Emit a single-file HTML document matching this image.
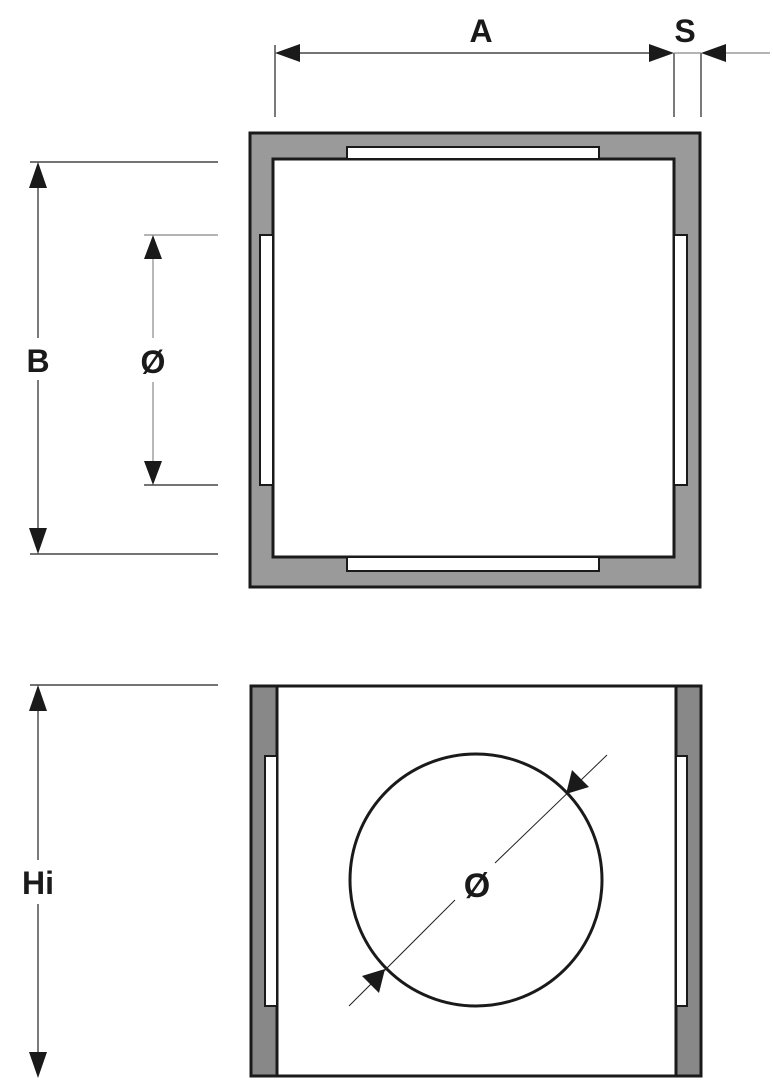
<!DOCTYPE html>
<html><head><style>html,body{margin:0;padding:0;background:#fff}svg{display:block}</style></head>
<body>
<svg width="773" height="1082" viewBox="0 0 773 1082" xmlns="http://www.w3.org/2000/svg" font-family="Liberation Sans, sans-serif" font-weight="bold">
<rect x="250" y="133" width="450" height="454" fill="#9a9a9a" stroke="#1a1a1a" stroke-width="3"/>
<rect x="273" y="159" width="401" height="398" fill="#fff" stroke="#1a1a1a" stroke-width="3"/>
<rect x="347" y="147" width="252" height="12" fill="#fff" stroke="#1a1a1a" stroke-width="2"/>
<rect x="347" y="557" width="252" height="14" fill="#fff" stroke="#1a1a1a" stroke-width="2"/>
<rect x="260" y="235" width="13" height="250" fill="#fff" stroke="#1a1a1a" stroke-width="2"/>
<rect x="674" y="235" width="13" height="250" fill="#fff" stroke="#1a1a1a" stroke-width="2"/>
<g stroke="#222" stroke-width="1.2">
<line x1="275" y1="45" x2="275" y2="117"/>
<line x1="674" y1="53" x2="674" y2="117"/>
<line x1="701" y1="53" x2="701" y2="117"/>
<line x1="290" y1="53" x2="660" y2="53"/>
<line x1="674" y1="53" x2="701" y2="53" stroke="#888"/>
<line x1="715" y1="53" x2="770" y2="53" stroke="#888"/>
<line x1="38" y1="175" x2="38" y2="338"/>
<line x1="38" y1="380" x2="38" y2="540"/>
<line x1="30" y1="162" x2="218" y2="162"/>
<line x1="30" y1="554" x2="218" y2="554"/>
<line x1="153" y1="248" x2="153" y2="338" stroke="#888"/>
<line x1="153" y1="382" x2="153" y2="472" stroke="#888"/>
<line x1="144" y1="235" x2="218" y2="235" stroke="#888"/>
<line x1="144" y1="485" x2="218" y2="485"/>
<line x1="30" y1="685" x2="218" y2="685"/>
<line x1="38" y1="698" x2="38" y2="860"/>
<line x1="38" y1="904" x2="38" y2="1066"/>
</g>
<g fill="#1a1a1a">
<polygon points="275,53 300,44 300,62"/>
<polygon points="674,53 649,44 649,62"/>
<polygon points="701,53 726,44 726,62"/>
<polygon points="38,162 29,188 47,188"/>
<polygon points="38,554 29,528 47,528"/>
<polygon points="153,235 144,259 162,259"/>
<polygon points="153,485 144,461 162,461"/>
<polygon points="38,685 29,711 47,711"/>
<polygon points="38,1078 29,1052 47,1052"/>
</g>
<g font-size="32" fill="#1a1a1a" text-anchor="middle">
<text x="481" y="42">A</text>
<text x="685" y="42">S</text>
<text x="38" y="372">B</text>
<text x="153" y="373">Ø</text>
<text x="38" y="894">Hi</text>
</g>
<rect x="251" y="686" width="450" height="390" fill="#fff" stroke="#1a1a1a" stroke-width="3"/>
<rect x="251" y="686" width="26" height="390" fill="#888" stroke="#1a1a1a" stroke-width="3"/>
<rect x="676" y="686" width="25" height="390" fill="#888" stroke="#1a1a1a" stroke-width="3"/>
<rect x="265" y="756" width="12" height="250" fill="#fff" stroke="#1a1a1a" stroke-width="2"/>
<rect x="676" y="756" width="11" height="250" fill="#fff" stroke="#1a1a1a" stroke-width="2"/>
<circle cx="476" cy="880" r="126" fill="none" stroke="#1a1a1a" stroke-width="3"/>
<g stroke="#222" stroke-width="1">
<line x1="607" y1="755" x2="495" y2="863"/>
<line x1="455" y1="900" x2="349" y2="1006"/>
</g>
<g fill="#1a1a1a">
<polygon points="566,794 572,770 589,787"/>
<polygon points="385,969 379,993 362,976"/>
</g>
<text x="477" y="897" font-size="34" fill="#1a1a1a" text-anchor="middle">Ø</text>
</svg>
</body></html>
